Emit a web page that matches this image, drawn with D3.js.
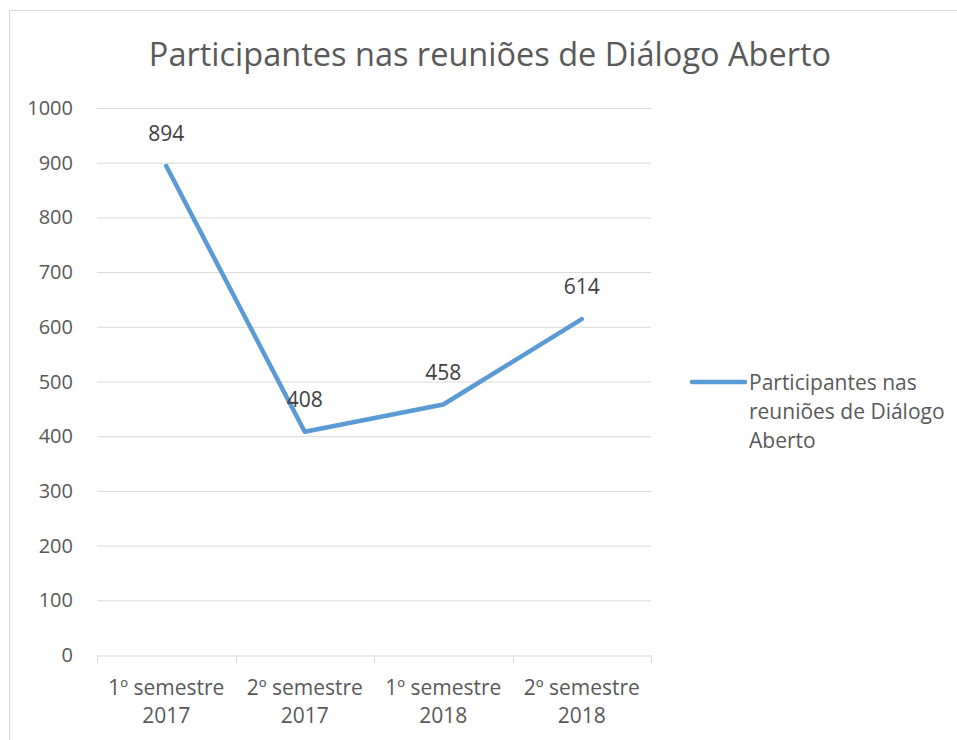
<!DOCTYPE html>
<html><head><meta charset="utf-8">
<script src="https://cdn.jsdelivr.net/npm/d3@7"></script>
<style>body{margin:0;background:#fff;}text{font-family:"Open Sans",sans-serif;}</style>
</head><body>
<svg id="c" width="957" height="740"></svg>
<script>
const categories = [["1º semestre","2017"],["2º semestre","2017"],["1º semestre","2018"],["2º semestre","2018"]];
const values = [894, 408, 458, 614];
const yTicks = [0,100,200,300,400,500,600,700,800,900,1000];
const seriesName = ["Participantes nas","reuniões de Diálogo","Aberto"];
const title = "Participantes nas reuniões de Diálogo Aberto";

const svg = d3.select("#c");
svg.append("rect").attr("x",9.5).attr("y",10.5).attr("width",960).attr("height",740)
  .attr("fill","#fff").attr("stroke","#d9d9d9").attr("stroke-width",1);

const x = d3.scaleBand().domain(d3.range(categories.length)).range([97,651]);
const y = d3.scaleLinear().domain([0,1000]).range([655,108]);

// gridlines
svg.append("g").selectAll("line").data(yTicks.filter(d=>d>0)).join("line")
  .attr("x1",97).attr("x2",651).attr("y1",d=>y(d)+0.5).attr("y2",d=>y(d)+0.5)
  .attr("stroke","#d9d9d9").attr("stroke-width",1);

// y labels
svg.append("g").selectAll("text").data(yTicks).join("text")
  .attr("x",73).attr("y",d=>y(d)).attr("dy","0.35em").attr("text-anchor","end")
  .attr("fill","#595959").attr("font-size",20).text(d=>d);

// x axis
const xa = svg.append("g").attr("transform","translate(0,655.5)")
  .call(d3.axisBottom(x).tickSize(0).tickFormat(""));
xa.select(".domain").attr("stroke","#d9d9d9");
xa.selectAll(".tick").remove();
const bounds = d3.range(categories.length+1).map(i=> i<categories.length ? x(i) : x(i-1)+x.bandwidth());
svg.append("g").selectAll("line").data(bounds).join("line")
  .attr("x1",d=>Math.round(d)+0.5).attr("x2",d=>Math.round(d)+0.5).attr("y1",655).attr("y2",663)
  .attr("stroke","#d9d9d9");
svg.append("g").selectAll("text").data(categories).join("text")
  .attr("text-anchor","middle").attr("fill","#595959").attr("font-size",21)
  .attr("transform",(d,i)=>`translate(${x(i)+x.bandwidth()/2},0)`)
  .each(function(d){
    const t=d3.select(this);
    t.append("tspan").attr("x",0).attr("y",688).attr("dy","0.35em").text(d[0]);
    t.append("tspan").attr("x",0).attr("y",716).attr("dy","0.35em").text(d[1]);
  });

// line
const line = d3.line().x((d,i)=>x(i)+x.bandwidth()/2).y(d=>y(d));
svg.append("path").datum(values).attr("d",line).attr("fill","none")
  .attr("stroke","#5b9bd5").attr("stroke-width",4.5).attr("stroke-linejoin","round").attr("stroke-linecap","round");

// data labels
svg.append("g").selectAll("text").data(values).join("text")
  .attr("x",(d,i)=>x(i)+x.bandwidth()/2).attr("y",d=>y(d)-32).attr("dy","0.35em")
  .attr("text-anchor","middle").attr("fill","#404040").attr("font-size",21).text(d=>d);

// title
svg.append("text").attr("x",490).attr("y",55).attr("dy","0.35em").attr("text-anchor","middle")
  .attr("fill","#595959").attr("font-size",32.5).text(title);

// legend
svg.append("line").attr("x1",692).attr("x2",745).attr("y1",382).attr("y2",382)
  .attr("stroke","#5b9bd5").attr("stroke-width",4.5).attr("stroke-linecap","round");
const lt = svg.append("text").attr("fill","#595959").attr("font-size",21);
seriesName.forEach((s,i)=>lt.append("tspan").attr("x",749).attr("y",383+i*29).attr("dy","0.35em").text(s));
</script>
</body></html>
